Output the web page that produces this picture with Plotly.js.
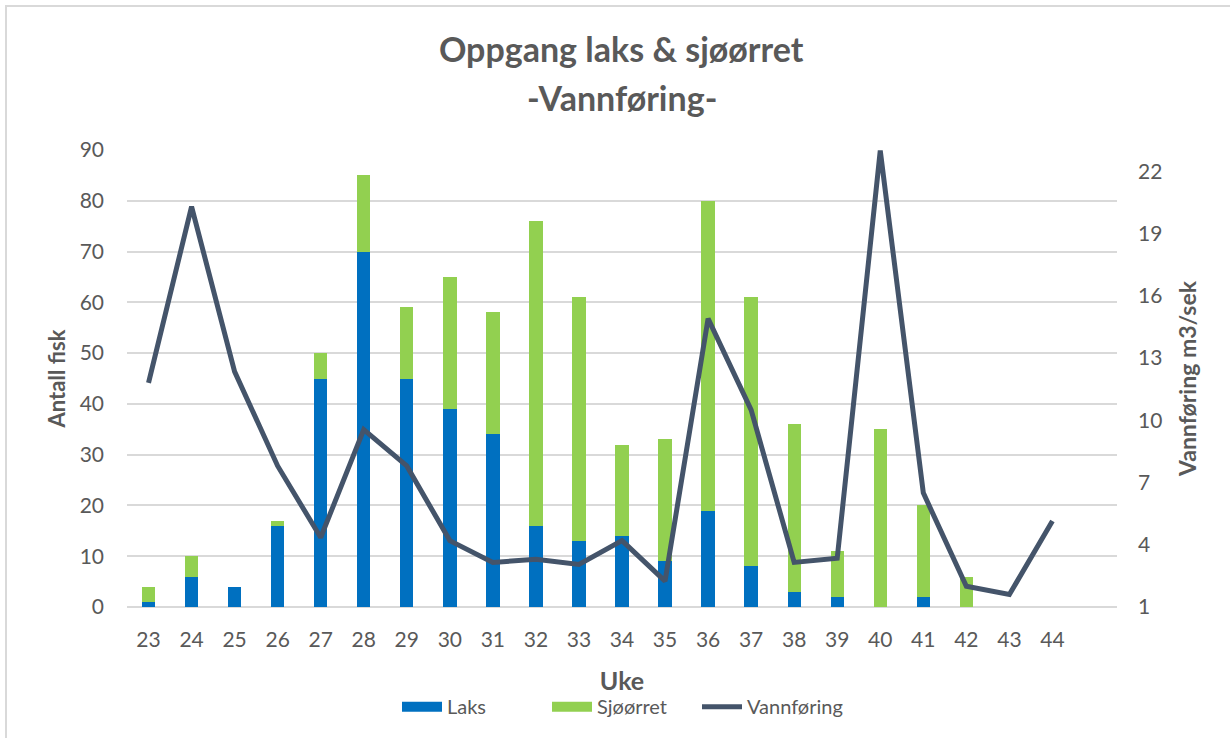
<!DOCTYPE html>
<html>
<head>
<meta charset="utf-8">
<script src="https://cdn.plot.ly/plotly-3.0.1.min.js"></script>
<style>
  html, body { margin: 0; padding: 0; background: #ffffff; overflow: hidden; }
  #frame { position: absolute; left: 5px; top: 5px; width: 1260px; height: 780px; border: 2px solid #d9d9d9; box-sizing: border-box; pointer-events: none; z-index: 5; }
  #chart { position: absolute; left: 0; top: 0; width: 1230px; height: 738px; }
</style>
</head>
<body>
<div id="chart"></div>
<div id="frame"></div>
<script>
const weeks = [23, 24, 25, 26, 27, 28, 29, 30, 31, 32, 33, 34, 35, 36, 37, 38, 39, 40, 41, 42, 43, 44];
const laks = [1, 6, 4, 16, 45, 70, 45, 39, 34, 16, 13, 14, 9, 19, 8, 3, 2, 0, 2, 0, 0, 0];
const sjoorret = [3, 4, 0, 1, 5, 15, 14, 26, 24, 60, 48, 18, 24, 61, 53, 33, 9, 35, 18, 6, 0, 0];
const vannforing = [11.8, 20.3, 12.35, 7.8, 4.35, 9.55, 7.8, 4.2, 3.15, 3.3, 3.05, 4.2, 2.25, 14.9, 10.5, 3.15, 3.35, 23.0, 6.5, 2.0, 1.6, 5.15];
const leftTicks = [0, 10, 20, 30, 40, 50, 60, 70, 80, 90];
const rightTicks = [1, 4, 7, 10, 13, 16, 19, 22];

const FONT = 'Lato, "Open Sans", sans-serif';
const GREY = '#595959';
const C_LAKS = '#0070C0', C_SJO = '#92D050', C_VANN = '#44546A';

const traces = [
  { type: 'bar', name: 'Laks', x: weeks, y: laks, width: 0.31, legendgroup: 'laks', showlegend: false,
    marker: { color: C_LAKS } },
  { type: 'bar', name: 'Sjøørret', x: weeks, y: sjoorret, width: 0.31, legendgroup: 'sjo', showlegend: false,
    marker: { color: C_SJO } },
  { type: 'scatter', mode: 'lines', name: 'Vannføring', x: weeks, y: vannforing, yaxis: 'y2', showlegend: false,
    legendgroup: 'vann', line: { color: C_VANN, width: 5, shape: 'linear' } },
  // legend-only entries (wide swatches like the original)
  { type: 'scatter', mode: 'lines', name: 'Laks', x: [null], y: [null], legendgroup: 'laks',
    line: { color: C_LAKS, width: 13 }, hoverinfo: 'skip' },
  { type: 'scatter', mode: 'lines', name: 'Sjøørret', x: [null], y: [null], legendgroup: 'sjo',
    line: { color: C_SJO, width: 13 }, hoverinfo: 'skip' },
  { type: 'scatter', mode: 'lines', name: 'Vannføring', x: [null], y: [null], legendgroup: 'vann',
    line: { color: C_VANN, width: 5 }, hoverinfo: 'skip' }
];

const layout = {
  width: 1230, height: 738,
  paper_bgcolor: '#ffffff', plot_bgcolor: '#ffffff',
  margin: { l: 127, r: 113, t: 150, b: 131 },
  font: { family: FONT, color: GREY, size: 19 },
  barmode: 'stack',
  title: { text: 'Oppgang laks &amp; sjøørret', x: 0.505, xanchor: 'center', y: 0.932, yanchor: 'middle',
    font: { family: FONT, size: 34, color: GREY, weight: 'bold' } },
  annotations: [
    { text: '-Vannføring-', xref: 'paper', yref: 'paper', x: 0.5, y: 1 + (150 - 98) / 457,
      xanchor: 'center', yanchor: 'middle', showarrow: false,
      font: { family: FONT, size: 34, color: GREY, weight: 'bold' } }
  ],
  xaxis: {
    range: [22.5, 45.5], tickvals: weeks, ticktext: weeks.map(String),
    showgrid: false, zeroline: false, showline: false, ticks: '',
    tickfont: { size: 21, color: GREY, family: FONT }, ticklabelstandoff: 18,
    title: { text: 'Uke', font: { size: 25, color: GREY, family: FONT, weight: 'bold' }, standoff: 22 }
  },
  yaxis: {
    range: [0, 90], tickvals: leftTicks, showgrid: true, gridcolor: '#d9d9d9', gridwidth: 1.5,
    zeroline: true, zerolinecolor: '#d9d9d9', zerolinewidth: 1.5, showline: false, ticks: '',
    tickfont: { size: 21, color: GREY, family: FONT }, ticklabelstandoff: 22,
    title: { text: 'Antall fisk', font: { size: 22, color: GREY, family: FONT, weight: 'bold' }, standoff: 7 }
  },
  yaxis2: {
    overlaying: 'y', side: 'right', range: [1, 23.03], tickvals: rightTicks,
    showgrid: false, zeroline: false, showline: false, ticks: '',
    tickfont: { size: 21, color: GREY, family: FONT }, ticklabelstandoff: 20,
    title: { text: 'Vannføring m3/sek', font: { size: 23, color: GREY, family: FONT, weight: 'bold' }, standoff: 18 }
  },
  legend: {
    orientation: 'h', x: 0.5, xanchor: 'center', y: -0.218, yanchor: 'middle',
    traceorder: 'normal', font: { size: 20, color: GREY, family: FONT },
    itemwidth: 40, entrywidth: 95, entrywidthmode: 'pixels', bgcolor: 'rgba(0,0,0,0)'
  },
  showlegend: true
};

Plotly.newPlot('chart', traces, layout, { displayModeBar: false });
</script>
</body>
</html>
